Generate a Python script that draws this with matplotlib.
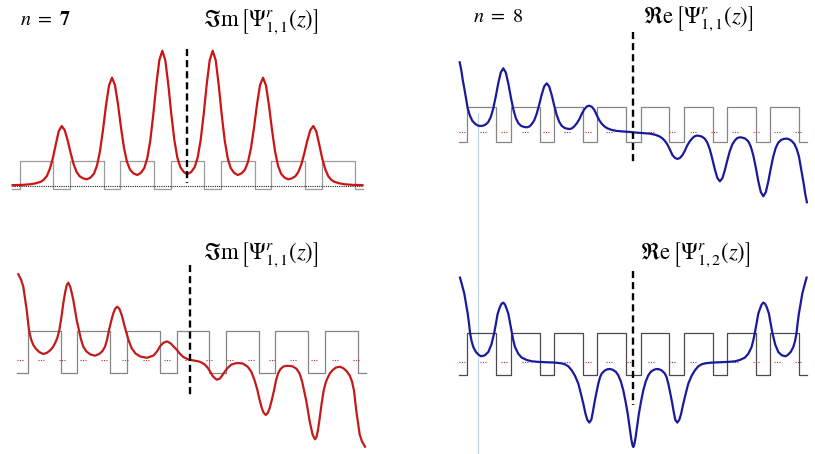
import matplotlib

matplotlib.use("Agg")

import matplotlib.pyplot as plt
import numpy as np
from matplotlib.lines import Line2D

plt.rcParams["mathtext.fontset"] = "stix"

W, H = 815, 454  # output size in px, 1 data unit = 1 px in every panel

# ---------------------------------------------------------------------------
# Top left: n = 7, Im Psi^r_{1,1}(z)   (z and psi as read off, in px offsets)
# ---------------------------------------------------------------------------
tl_z = [
    -175.0, -163.8, -156.8, -151.8, -146.8, -143.8, -140.8, -137.8, -134.8,
    -131.8, -128.8, -125.8, -122.8, -119.8, -116.8, -113.8, -110.8, -107.8,
    -104.3, -100.6, -97.0, -93.5, -90.5, -87.5, -84.5, -81.5, -78.5, -75.5,
    -72.5, -69.5, -66.5, -63.5, -60.5, -57.5, -54.0, -50.3, -46.7, -43.2,
    -40.2, -37.2, -34.2, -31.2, -28.2, -25.2, -22.2, -19.2, -16.2, -13.2,
    -10.2, -7.2, -3.7, 0.0,
    3.7, 7.2, 10.2, 13.2, 16.2, 19.2, 22.2, 25.2, 28.2, 31.2, 34.2, 37.2,
    40.2, 43.2, 46.7, 50.3, 54.0, 57.5, 60.5, 63.5, 66.5, 69.5, 72.5, 75.5,
    78.5, 81.5, 84.5, 87.5, 90.5, 93.5, 97.0, 100.6, 104.3, 107.8, 110.8,
    113.8, 116.8, 119.8, 122.8, 125.8, 128.8, 131.8, 134.8, 137.8, 140.8,
    143.8, 146.8, 151.8, 156.8, 163.8, 175.0,
]
tl_psi = [
    0.6, 1.0, 1.6, 2.5, 4.0, 6.0, 9.5, 16.5, 27.0,
    41.0, 54.5, 59.8, 55.7, 45.2, 32.5, 21.3, 13.7, 9.5,
    7.4, 6.5, 8.2, 12.2, 20.2, 34.7, 56.0, 80.3, 100.3, 108.1,
    100.6, 81.4, 58.2, 37.8, 23.9, 16.2, 12.4, 10.8, 12.8, 17.8,
    27.6, 45.4, 71.3, 101.0, 125.5, 135.1, 125.6, 101.3, 71.8, 46.1,
    28.4, 18.7, 13.8, 11.8,
    13.8, 18.7, 28.4, 46.1, 71.8, 101.3, 125.6, 135.1, 125.5, 101.0, 71.3, 45.4,
    27.6, 17.8, 12.8, 10.8, 12.4, 16.2, 23.9, 37.8, 58.2, 81.4, 100.6, 108.1,
    100.3, 80.3, 56.0, 34.7, 20.2, 12.2, 8.2, 6.5, 7.4, 9.5, 13.7,
    21.3, 32.5, 45.2, 55.7, 59.8, 54.5, 41.0, 27.0, 16.5, 9.5,
    6.0, 4.0, 2.5, 1.6, 1.0, 0.6,
]
tl_edges = [-167.7, -134.2, -117.4, -83.9, -67.1, -33.6, -16.8,
            16.8, 33.6, 67.1, 83.9, 117.4, 134.2, 167.7]
tl_ends = [-175.5, 175.5]
tl_levels = [-3.3, 25.3]

# ---------------------------------------------------------------------------
# Top right: n = 8, Re Psi^r_{1,1}(z)
# ---------------------------------------------------------------------------
tr_z = [
    -173.6, -172.0, -170.5, -169.0, -167.5, -165.6, -163.5, -161.0, -158.0,
    -155.5, -153.3, -150.5, -148.0, -145.0, -142.5, -140.0, -137.5, -135.0,
    -132.5, -130.0, -127.5, -125.0, -122.5, -120.0, -117.5, -115.0, -112.0,
    -109.0, -106.6, -104.0, -101.6, -99.1, -96.6, -94.1, -91.6, -89.1, -86.6,
    -84.1, -81.6, -79.1, -76.6, -74.1, -71.6, -68.6, -65.5, -63.3, -61.0,
    -59.0, -56.5, -54.0, -51.5, -49.0, -46.5, -44.0, -41.5, -39.0, -36.5,
    -34.0, -31.5, -29.0, -26.0, -22.0, -17.0, -10.0, -4.0, 0.0,
    4.0, 10.0, 17.0, 22.0, 26.0, 29.0, 31.5, 34.0, 36.5, 39.0, 41.5, 44.0,
    46.5, 49.0, 51.5, 54.0, 56.5, 59.0, 61.0, 63.3, 65.5, 68.6, 71.6, 74.1,
    76.6, 79.1, 81.6, 84.1, 86.6, 89.1, 91.6, 94.1, 96.6, 99.1, 101.6,
    104.0, 106.6, 109.0, 112.0, 115.0, 117.5, 120.0, 122.5, 125.0, 127.5,
    130.0, 132.5, 135.0, 137.5, 140.0, 142.5, 145.0, 148.0, 150.5, 153.3,
    155.5, 158.0, 161.0, 163.5, 165.6, 167.5, 169.0, 170.5, 172.0, 173.6,
]
tr_psi = [
    70.0, 62.0, 52.0, 44.0, 35.0, 24.0, 17.0, 11.5, 8.3,
    6.8, 6.3, 6.6, 7.5, 10.3, 15.4, 24.0, 36.0, 49.2,
    59.9, 64.0, 59.8, 48.9, 35.3, 23.1, 14.3, 9.1, 6.3,
    5.3, 5.0, 5.7, 8.1, 11.9, 18.5, 27.6, 37.7, 45.9, 49.0,
    45.8, 37.3, 26.8, 17.3, 10.5, 6.5, 4.3, 3.5, 3.3, 4.2,
    6.0, 9.0, 13.0, 18.5, 23.0, 25.8, 26.6, 25.5, 22.5, 17.0,
    12.0, 8.5, 6.0, 4.0, 2.5, 1.4, 0.8, 0.4, 0.0,
    -0.4, -0.8, -1.4, -2.5, -4.0, -6.0, -8.5, -12.0, -17.0, -22.5, -25.5, -26.6,
    -25.8, -23.0, -18.5, -13.0, -9.0, -6.0, -4.2, -3.3, -3.5, -4.3, -6.5, -10.5,
    -17.3, -26.8, -37.3, -45.8, -49.0, -45.9, -37.7, -27.6, -18.5, -11.9, -8.1,
    -5.7, -5.0, -5.3, -6.3, -9.1, -14.3, -23.1, -35.3, -48.9, -59.8,
    -64.0, -59.9, -49.2, -36.0, -24.0, -15.4, -10.3, -7.5, -6.6, -6.3,
    -6.8, -8.3, -11.5, -17.0, -24.0, -35.0, -44.0, -52.0, -62.0, -70.0,
]
tr_edges = [-166.0, -137.1, -122.7, -93.8, -79.4, -50.5, -36.1, -7.2,
            7.2, 36.1, 50.5, 79.4, 93.8, 122.7, 137.1, 166.0]
tr_ends = [-174.0, 173.5]
tr_levels = [-10.0, 25.0]

# ---------------------------------------------------------------------------
# Bottom left: n = 7, Im Psi^r_{1,1}(z)
# ---------------------------------------------------------------------------
bl_z = [
    -173.2, -170.5, -168.2, -166.5, -164.8, -163.5, -162.5, -160.5, -158.2,
    -155.0, -152.0, -148.2, -144.5, -141.0, -138.5, -136.5, -134.2, -132.2,
    -130.2, -128.2, -126.2, -124.7, -123.2, -121.2, -119.5, -118.2, -116.5,
    -114.8, -112.5, -110.5, -108.2, -105.0, -101.0, -96.5, -92.0, -89.0,
    -86.5, -84.5, -82.5, -80.3, -78.2, -76.2, -74.2, -72.0, -69.8, -67.8,
    -65.8, -63.0, -59.8, -56.0, -51.0, -44.5, -38.0, -34.5, -31.5, -28.0,
    -24.2, -20.5, -17.5, -14.8, -11.5, -8.2, -4.5, -1.5,
    2.0, 6.8, 10.0, 13.5, 16.0, 18.5, 21.5, 25.2, 28.5, 31.0, 33.5, 36.5,
    40.0, 45.2, 51.0, 56.0, 59.8, 63.0, 65.8, 67.8, 69.8, 72.0, 74.2, 76.2,
    78.2, 80.3, 82.5, 84.5, 86.5, 89.0, 92.0, 95.0, 98.5, 101.0, 105.0,
    108.2, 110.5, 112.5, 114.8, 116.5, 118.2, 119.5, 121.2, 123.5, 125.0,
    126.5, 128.2, 130.2, 132.2, 134.2, 136.5, 138.5, 141.0, 144.5, 148.5,
    152.0, 155.0, 158.2, 160.5, 162.5, 163.5, 164.8, 166.5, 168.2, 170.5,
    173.5,
]
bl_psi = [
    85.7, 80.5, 73.3, 62.0, 50.0, 38.0, 29.7, 21.0, 15.0,
    10.5, 7.8, 6.0, 7.2, 10.0, 13.0, 16.7, 22.0, 29.7,
    42.0, 56.7, 68.5, 75.0, 77.3, 73.0, 66.0, 60.0, 50.0,
    40.0, 29.7, 20.5, 13.3, 8.5, 5.5, 4.3, 6.2, 9.0,
    13.3, 20.0, 29.7, 39.0, 46.7, 51.5, 53.3, 51.0, 45.0, 37.5,
    29.7, 20.0, 11.7, 6.5, 3.4, 2.2, 4.5, 8.5, 13.7, 17.3,
    18.6, 16.3, 13.0, 10.3, 6.2, 3.0, 1.2, 0.3,
    -0.5, -1.3, -2.5, -4.7, -7.5, -11.3, -16.5, -19.7, -18.5, -15.0, -11.3, -7.5,
    -4.5, -3.0, -3.4, -6.5, -11.7, -20.0, -29.7, -38.5, -46.5, -52.5, -55.0, -53.0,
    -48.0, -40.0, -30.5, -20.5, -13.5, -9.0, -6.5, -5.8, -6.0, -6.3, -8.8,
    -13.8, -21.0, -30.5, -41.0, -51.0, -61.5, -67.5, -75.0, -79.3, -77.0,
    -70.0, -58.0, -43.0, -30.5, -22.5, -17.0, -13.2, -10.2, -7.5, -6.7,
    -8.3, -11.0, -15.5, -21.5, -30.5, -39.0, -51.0, -63.0, -74.5, -81.5,
    -86.7,
]
bl_edges = [-163.8, -130.8, -114.2, -81.5, -64.2, -31.5, -14.8,
            17.8, 34.2, 67.2, 83.8, 116.8, 133.5, 166.2]
bl_ends = [-174.2, 174.2]
bl_levels = [-13.0, 29.5]

# ---------------------------------------------------------------------------
# Bottom right: n = 8, Re Psi^r_{1,2}(z)
# ---------------------------------------------------------------------------
br_z = [
    -173.3, -171.3, -169.0, -167.3, -165.6, -164.3, -163.3, -161.8, -160.0,
    -157.5, -155.0, -152.3, -148.5, -145.0, -142.0, -139.0, -137.2, -135.6,
    -133.5, -131.8, -130.0, -128.2, -126.5, -125.0, -123.3, -121.6, -120.0,
    -118.3, -115.0, -111.6, -106.5, -101.6, -95.0, -88.0, -78.3, -72.0,
    -68.3, -65.0, -61.6, -58.3, -55.0, -52.5, -50.0, -47.8, -46.0, -44.0,
    -42.0, -40.5, -39.0, -37.0, -35.0, -33.3, -31.6, -28.5, -26.0, -23.3,
    -20.5, -17.5, -15.0, -12.5, -10.0, -7.8, -5.6, -3.8, -2.0, -0.8, 0.0,
    0.8, 2.0, 3.8, 5.6, 7.8, 10.0, 12.5, 15.0, 17.5, 20.5, 23.3, 26.0, 28.5,
    31.6, 33.3, 35.0, 37.0, 39.0, 40.5, 42.0, 44.0, 46.0, 47.8, 50.0, 52.5,
    55.0, 58.3, 61.6, 65.0, 68.3, 72.0, 78.3, 88.0, 95.0, 101.6, 106.5,
    111.6, 115.0, 118.3, 120.0, 121.6, 123.3, 125.0, 126.5, 128.2, 130.0,
    131.8, 133.5, 135.6, 137.2, 139.0, 142.0, 145.0, 148.5, 152.3, 155.0,
    157.5, 160.0, 161.8, 163.3, 164.3, 165.6, 167.3, 169.0, 171.3, 173.3,
]
br_psi = [
    84.7, 77.5, 68.7, 58.5, 48.7, 39.0, 29.7, 21.5, 15.3,
    10.5, 7.8, 6.0, 7.0, 10.3, 17.5, 29.7, 40.0, 48.7,
    55.0, 58.5, 59.7, 57.5, 53.0, 48.7, 39.5, 29.7, 22.0,
    15.3, 8.5, 4.7, 2.3, 1.0, 0.4, 0.1, -0.3, -1.0,
    -2.0, -4.0, -8.0, -13.5, -21.3, -31.0, -41.3, -51.5, -57.5, -60.3,
    -57.5, -50.0, -41.3, -31.0, -21.3, -15.0, -11.3, -8.2, -7.0, -6.7,
    -7.5, -9.5, -13.0, -19.0, -28.0, -39.0, -51.3, -64.0, -77.0, -83.0, -84.7,
    -83.0, -77.0, -64.0, -51.3, -39.0, -28.0, -19.0, -13.0, -9.5, -7.5, -6.7, -7.0, -8.2,
    -11.3, -15.0, -21.3, -31.0, -41.3, -50.0, -57.5, -60.3, -57.5, -51.5, -41.3, -31.0,
    -21.3, -13.5, -8.0, -4.0, -2.0, -1.0, -0.3, 0.1, 0.4, 1.0, 2.3,
    4.7, 8.5, 15.3, 22.0, 29.7, 39.5, 48.7, 53.0, 57.5, 59.7,
    58.5, 55.0, 48.7, 40.0, 29.7, 17.5, 10.3, 7.0, 6.0, 7.8,
    10.5, 15.3, 21.5, 29.7, 39.0, 48.7, 58.5, 68.7, 77.5, 84.7,
]
br_edges = tr_edges
br_ends = tr_ends
br_levels = [-13.0, 29.8]

# panel layout: (origin x px, origin y px, box l, t, r, b in px)
layout = {
    "tl": (187.5, 185.8, (0, 0, 407, 227)),
    "tr": (633.3, 132.3, (407, 0, 815, 227)),
    "bl": (191.5, 360.0, (0, 227, 407, 454)),
    "br": (633.3, 362.3, (407, 227, 815, 454)),
}

RED = "#cc1414"
RED2 = "#c21b1b"
BLUE = "#1a1a9c"

fig = plt.figure(figsize=(W / 100, H / 100), dpi=100)
fig.patch.set_facecolor("white")


def make_panel(key):
    ox, oy, (l, t, r, b) = layout[key]
    ax = fig.add_axes([l / W, 1 - b / H, (r - l) / W, (b - t) / H])
    ax.set_xlim(l - ox, r - ox)
    ax.set_ylim(oy - b, oy - t)
    ax.axis("off")
    return ax


def draw_lattice(ax, edges, ends, levels, color):
    xs = np.concatenate([[ends[0]], np.repeat(edges, 2), [ends[1]]])
    seg = [levels[i % 2] for i in range(len(edges) + 1)]
    ys = np.repeat(seg, 2)
    ax.plot(xs, ys, color=color, lw=0.9, zorder=1)


def zero_line(ax, ends, color, style, lw=0.8):
    ax.plot(ends, [0, 0], color=color, lw=lw, linestyle=style, zorder=1)


def marker_line(ax, x, y0, y1):
    ax.plot([x, x], [y0, y1], color="black", lw=1.7, dashes=(3, 1.7), zorder=3)


cluster = (0, (1, 1.2, 1, 1.2, 1, 13.5))

# top left
ax = make_panel("tl")
draw_lattice(ax, tl_edges, tl_ends, tl_levels, "#9a9a9a")
zero_line(ax, tl_ends, "#222222", (0, (1, 1)))
ax.plot(tl_z, tl_psi, color=RED, lw=1.6, zorder=2)
marker_line(ax, -0.5, 136.8, 2.8)

# top right
ax = make_panel("tr")
draw_lattice(ax, tr_edges, tr_ends, tr_levels, "#858585")
zero_line(ax, tr_ends, "#b03030", cluster)
ax.plot(tr_z, tr_psi, color=BLUE, lw=1.6, zorder=2)
marker_line(ax, -0.6, 100.6, -32.7)

# bottom left
ax = make_panel("bl")
draw_lattice(ax, bl_edges, bl_ends, bl_levels, "#858585")
zero_line(ax, bl_ends, "#b03030", cluster)
ax.plot(bl_z, bl_psi, color=RED2, lw=1.6, zorder=2)
marker_line(ax, -1.5, 95.0, -38.3)

# bottom right
ax = make_panel("br")
draw_lattice(ax, br_edges, br_ends, br_levels, "#4a4a4a")
zero_line(ax, br_ends, "#b03030", cluster)
ax.plot(br_z, br_psi, color=BLUE, lw=1.6, zorder=2)
marker_line(ax, -0.6, 91.6, -42.7)

# stray light-blue cursor line running through the right column
CURSOR_X, CURSOR_TOP = 478.3, 113.3
fig.add_artist(Line2D([CURSOR_X / W] * 2, [1 - CURSOR_TOP / H, 0],
                      transform=fig.transFigure, color="#bcd2e4", lw=0.8, zorder=0))

# labels: (x px, baseline px, text, size)
labels = [
    (20, 25, r"$n\ =\ \mathbf{7}$", 14.5),
    (473, 22.5, r"$n\ =\ 8$", 14.5),
    (203, 26, r"$\Im\mathrm{m}\,\left[\Psi^{r}_{1,1}(z)\right]$", 16.3),
    (643, 23, r"$\Re\mathrm{e}\,\left[\Psi^{r}_{1,1}(z)\right]$", 16.3),
    (203, 259, r"$\Im\mathrm{m}\,\left[\Psi^{r}_{1,1}(z)\right]$", 16.3),
    (640, 259, r"$\Re\mathrm{e}\,\left[\Psi^{r}_{1,2}(z)\right]$", 16.3),
]
for x, y, s, size in labels:
    fig.text(x / W, 1 - y / H, s, fontsize=size, ha="left", va="baseline")

fig.savefig("out.png", dpi=100, facecolor="white")
